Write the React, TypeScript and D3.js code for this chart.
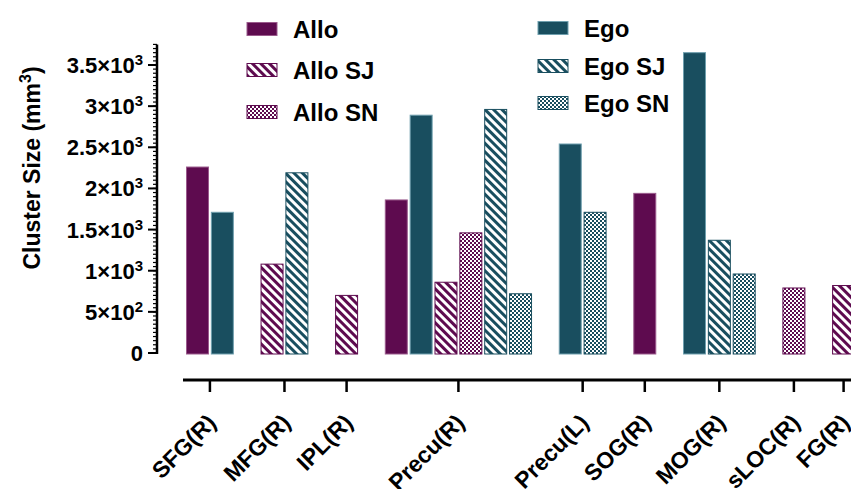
import React from "react";
import * as d3 from "d3";

// ---------- data ----------
const categories = ["SFG(R)", "MFG(R)", "IPL(R)", "Precu(R)", "Precu(L)", "SOG(R)", "MOG(R)", "sLOC(R)", "FG(R)"];
const seriesNames = ["Allo", "Ego", "Allo SJ", "Allo SN", "Ego SJ", "Ego SN"];
const alloValues = [2260, null, null, 1860, null, 1940, null, null, null];
const egoValues = [1710, null, null, 2890, 2540, null, 3650, null, null];
const alloSJValues = [null, 1080, 700, 860, null, null, null, null, 820];
const alloSNValues = [null, null, null, 1460, null, null, null, 790, null];
const egoSJValues = [null, 2190, null, 2960, null, null, 1370, null, null];
const egoSNValues = [null, null, null, 720, 1710, null, 960, null, null];
const yTicks = [0, 500, 1000, 1500, 2000, 2500, 3000, 3500];
const yAxisMax = 3750;
const yMinorStep = 50;

const seriesValues: (number | null)[][] = [alloValues, egoValues, alloSJValues, alloSNValues, egoSJValues, egoSNValues];

// ---------- styles ----------
const PURPLE = "#5e0b4f";
const TEAL = "#194e5f";
const seriesStyle: Record<string, { color: string; edge: string; kind: "solid" | "stripe" | "check" }> = {
  "Allo": { color: PURPLE, edge: "#9a5a8c", kind: "solid" },
  "Ego": { color: TEAL, edge: "#6f9fae", kind: "solid" },
  "Allo SJ": { color: PURPLE, edge: PURPLE, kind: "stripe" },
  "Allo SN": { color: PURPLE, edge: PURPLE, kind: "check" },
  "Ego SJ": { color: TEAL, edge: TEAL, kind: "stripe" },
  "Ego SN": { color: TEAL, edge: TEAL, kind: "check" },
};
const legendLayout: Record<string, { x: number; y: number }> = {
  "Allo": { x: 247, y: 29 },
  "Allo SJ": { x: 247, y: 70 },
  "Allo SN": { x: 247, y: 112 },
  "Ego": { x: 538, y: 28 },
  "Ego SJ": { x: 538, y: 66 },
  "Ego SN": { x: 538, y: 103 },
};

const FONT = "'Liberation Sans', Arial, Helvetica, sans-serif";
const W = 851;
const H = 489;

function fillFor(name: string) {
  const st = seriesStyle[name];
  const key = name.replace(/\s+/g, "-");
  if (st.kind === "solid") return st.color;
  return `url(#pat-${key})`;
}

function sciLabel(n: number) {
  if (n === 0) return { mant: "0", exp: null as null | number };
  const exp = Math.floor(Math.log10(n));
  const mant = +(n / Math.pow(10, exp)).toFixed(2);
  return { mant: `${mant}×10`, exp };
}

export default function App() {
  // slot layout: bars packed per category, one empty slot between categories
  const bars: { ci: number; si: number; v: number; slot: number }[] = [];
  const groups: { ci: number; first: number; last: number }[] = [];
  let s = 0;
  categories.forEach((_, ci) => {
    const start = s;
    seriesValues.forEach((vals, si) => {
      const v = vals[ci];
      if (v != null) {
        bars.push({ ci, si, v, slot: s });
        s++;
      }
    });
    groups.push({ ci, first: start, last: s - 1 });
    s++;
  });
  const nSlots = s - 1;

  const step = 24.85;
  const pad = 0.075;
  const x = d3
    .scaleBand<number>()
    .domain(d3.range(nSlots))
    .range([186, 186 + nSlots * step - step * pad])
    .paddingInner(pad)
    .paddingOuter(0);
  const groupCenter = (g: { first: number; last: number }) => (x(g.first)! + x(g.last)! + x.bandwidth()) / 2;

  const y = d3.scaleLinear().domain([0, 3500]).range([353, 65]);
  const axisX = 157;
  const minorTicks = d3.range(0, yAxisMax + 1, yMinorStep);
  const xAxisY = 380;

  return (
    <svg width={W} height={H} style={{ position: "absolute", left: 0, top: 0, background: "#fff" }} fontFamily={FONT}>
      <defs>
        {seriesNames.map((name) => {
          const st = seriesStyle[name];
          const key = name.replace(/\s+/g, "-");
          if (st.kind === "stripe")
            return (
              <pattern key={key} id={`pat-${key}`} patternUnits="userSpaceOnUse" width={6} height={6} patternTransform="rotate(-45)">
                <rect width={6} height={6} fill="#fff" />
                <rect width={3} height={6} fill={st.color} />
              </pattern>
            );
          if (st.kind === "check")
            return (
              <pattern key={key} id={`pat-${key}`} patternUnits="userSpaceOnUse" width={4} height={4}>
                <rect width={4} height={4} fill="#fff" />
                <rect width={2} height={2} fill={st.color} />
                <rect x={2} y={2} width={2} height={2} fill={st.color} />
              </pattern>
            );
          return null;
        })}
      </defs>

      {/* bars */}
      {bars.map((b, i) => {
        const name = seriesNames[b.si];
        const st = seriesStyle[name];
        const bx = x(b.slot)!;
        const by = y(b.v);
        return (
          <rect
            key={i}
            x={bx + 0.5}
            y={by}
            width={x.bandwidth() - 1}
            height={y(0) + 1 - by}
            fill={fillFor(name)}
            stroke={st.edge}
            strokeWidth={1}
          />
        );
      })}

      {/* y axis */}
      <line x1={axisX} x2={axisX} y1={y(yAxisMax)} y2={y(0) + 1} stroke="#000" strokeWidth={2.5} />
      {minorTicks.map((t) => (
        <line key={`m${t}`} x1={axisX - 4} x2={axisX} y1={y(t)} y2={y(t)} stroke="#000" strokeWidth={1.2} />
      ))}
      {yTicks.map((t) => {
        const { mant, exp } = sciLabel(t);
        return (
          <g key={`t${t}`}>
            <line x1={axisX - 9} x2={axisX} y1={y(t)} y2={y(t)} stroke="#000" strokeWidth={2} />
            <text x={143} y={y(t) + 8} textAnchor="end" fontSize={22} fontWeight="bold" fill="#000">
              {mant}
              {exp != null && (
                <tspan fontSize={15} dy={-8}>
                  {exp}
                </tspan>
              )}
            </text>
          </g>
        );
      })}

      {/* y title */}
      <text transform={`translate(40,168) rotate(-90)`} textAnchor="middle" fontSize={23} fontWeight="bold" fill="#000">
        Cluster Size (mm
        <tspan fontSize={16} dy={-9}>3</tspan>
        <tspan dy={9}>)</tspan>
      </text>

      {/* x axis */}
      <line x1={183} x2={W} y1={xAxisY} y2={xAxisY} stroke="#000" strokeWidth={3} />
      {groups.map((g) => {
        const tx = groupCenter(g);
        return (
          <g key={`x${g.ci}`}>
            <line x1={tx} x2={tx} y1={xAxisY} y2={xAxisY + 12} stroke="#000" strokeWidth={2.5} />
            <text
              transform={`translate(${tx + 7.5},${xAxisY + 44}) rotate(-45)`}
              textAnchor="end"
              fontSize={23}
              fontWeight="bold"
              fill="#000"
            >
              {categories[g.ci]}
            </text>
          </g>
        );
      })}

      {/* legend */}
      {seriesNames.map((name) => {
        const p = legendLayout[name];
        const st = seriesStyle[name];
        return (
          <g key={`l${name}`}>
            <rect x={p.x} y={p.y - 6.5} width={30} height={13} fill={fillFor(name)} stroke={st.edge} strokeWidth={1} />
            <text x={p.x + 46} y={p.y + 8.5} fontSize={24} fontWeight="bold" fill="#000">
              {name}
            </text>
          </g>
        );
      })}
    </svg>
  );
}
